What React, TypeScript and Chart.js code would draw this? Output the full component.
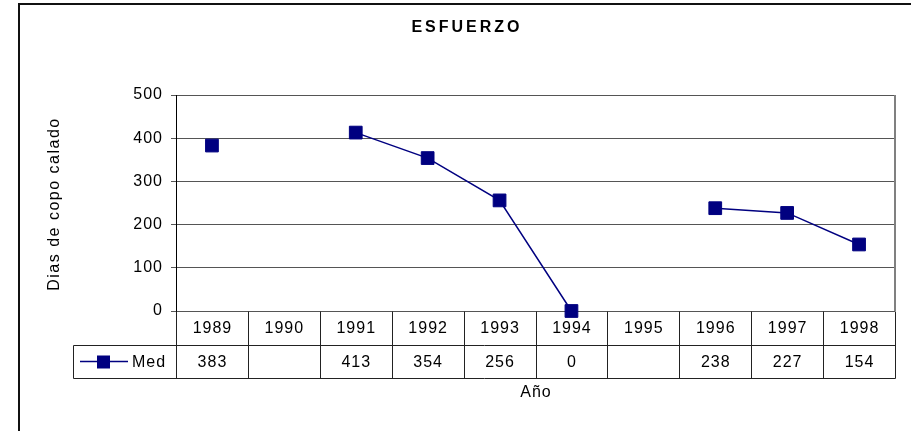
import React, { useEffect, useRef } from "react";
import { Chart, registerables } from "chart.js";

Chart.register(...registerables);

const chartTitle = "ESFUERZO";
const yAxisTitle = "Dias de copo calado";
const xAxisTitle = "Año";
const seriesName = "Med";
const years = ["1989", "1990", "1991", "1992", "1993", "1994", "1995", "1996", "1997", "1998"];
const medValues: (number | null)[] = [383, null, 413, 354, 256, 0, null, 238, 227, 154];
const yMin = 0;
const yMax = 500;
const yStep = 100;

const FONT = "'Liberation Sans', Arial, sans-serif";
const NAVY = "#000080";

const spacingPlugin = {
  id: "spacing",
  beforeLayout(chart: any) {
    (chart.ctx as any).letterSpacing = "1px";
  },
  beforeDraw(chart: any) {
    (chart.ctx as any).letterSpacing = "1px";
  },
};

const tablePlugin = {
  id: "dataTable",
  beforeDatasetsDraw(chart: any) {
    const ctx: CanvasRenderingContext2D = chart.ctx;
    const area = chart.chartArea;
    const xs = chart.scales.x;
    const n = years.length;
    const colW = (area.right - area.left) / n;
    const row1 = area.bottom;
    const row2 = area.bottom + 34;
    const row3 = area.bottom + 67;
    const legendLeft = 73;
    ctx.save();

    // outer chart border
    ctx.fillStyle = "#111";
    ctx.fillRect(18, 3, 911, 2);
    ctx.fillRect(18, 3, 2, 431);

    // plot area right border
    ctx.strokeStyle = "#808080";
    ctx.lineWidth = 2;
    ctx.beginPath();
    ctx.moveTo(area.right, area.top);
    ctx.lineTo(area.right, area.bottom);
    ctx.stroke();

    // table lines
    ctx.strokeStyle = "#222";
    ctx.lineWidth = 1;
    ctx.beginPath();
    const L = Math.round(area.left) + 0.5;
    const R = Math.round(area.right) + 0.5;
    ctx.moveTo(legendLeft + 0.5, Math.round(row2) + 0.5);
    ctx.lineTo(R, Math.round(row2) + 0.5);
    ctx.moveTo(legendLeft + 0.5, Math.round(row3) + 0.5);
    ctx.lineTo(R, Math.round(row3) + 0.5);
    ctx.moveTo(legendLeft + 0.5, Math.round(row2) + 0.5);
    ctx.lineTo(legendLeft + 0.5, Math.round(row3) + 0.5);
    ctx.moveTo(L, Math.round(row1) + 0.5);
    ctx.lineTo(L, Math.round(row3) + 0.5);
    for (let i = 0; i < n; i++) {
      const right = Math.round(xs.getPixelForValue(i) + colW / 2) + 0.5;
      ctx.moveTo(right, Math.round(row1) + 0.5);
      ctx.lineTo(right, Math.round(row3) + 0.5);
    }
    ctx.stroke();

    // table texts
    ctx.fillStyle = "#000";
    ctx.font = `16px ${FONT}`;
    (ctx as any).letterSpacing = "1px";
    ctx.textAlign = "center";
    ctx.textBaseline = "middle";
    for (let i = 0; i < n; i++) {
      const cx = xs.getPixelForValue(i);
      ctx.fillText(years[i], cx + 0.5, (row1 + row2) / 2 + 1);
      const v = medValues[i];
      if (v !== null) ctx.fillText(String(v), cx + 0.5, (row2 + row3) / 2 + 1);
    }

    // legend key in the table
    const ly = (row2 + row3) / 2;
    ctx.strokeStyle = NAVY;
    ctx.lineWidth = 1.5;
    ctx.beginPath();
    ctx.moveTo(80, ly);
    ctx.lineTo(128, ly);
    ctx.stroke();
    ctx.fillStyle = NAVY;
    ctx.fillRect(97, ly - 6, 13, 13);
    ctx.fillStyle = "#000";
    ctx.textAlign = "left";
    ctx.fillText(seriesName, 132, ly + 1);

    // axis title x
    ctx.textAlign = "center";
    ctx.fillText(xAxisTitle, 536, 393);

    // title
    ctx.font = `bold 16px ${FONT}`;
    (ctx as any).letterSpacing = "3px";
    ctx.fillText(chartTitle, 467, 28);

    // y title
    ctx.font = `16px ${FONT}`;
    (ctx as any).letterSpacing = "1.5px";
    ctx.translate(55, 204);
    ctx.rotate(-Math.PI / 2);
    ctx.fillText(yAxisTitle, 0, 0);
    ctx.restore();
  },
};

export default function App() {
  const ref = useRef<HTMLCanvasElement | null>(null);
  useEffect(() => {
    if (!ref.current) return;
    const chart = new Chart(ref.current, {
      type: "line",
      data: {
        labels: years,
        datasets: [
          {
            label: seriesName,
            data: medValues,
            borderColor: NAVY,
            backgroundColor: NAVY,
            borderWidth: 1.5,
            pointStyle: "rect",
            pointRadius: 9,
            pointBorderWidth: 1,
            pointHoverRadius: 9,
            spanGaps: false,
            clip: false as any,
            tension: 0,
          },
        ],
      },
      options: {
        responsive: false,
        animation: false,
        events: [],
        layout: { padding: { top: 95, bottom: 120, right: 16, left: 0 } },
        plugins: {
          legend: { display: false },
          title: { display: false },
          tooltip: { enabled: false },
        },
        scales: {
          x: {
            type: "category",
            display: false,
            offset: true,
          },
          y: {
            min: yMin,
            max: yMax,
            afterFit: (scale: any) => {
              scale.width = 176;
            },
            ticks: {
              stepSize: yStep,
              color: "#000",
              padding: 8,
              font: { family: FONT, size: 16 },
            },
            grid: {
              color: "#555",
              lineWidth: 1,
              tickLength: 5,
              drawTicks: true,
            },
            border: { display: true, color: "#000", width: 1 },
          },
        },
      },
      plugins: [spacingPlugin, tablePlugin],
    });
    return () => chart.destroy();
  }, []);
  return (
    <div style={{ position: "fixed", left: 0, top: 0, width: 911, height: 431, background: "#fff" }}>
      <canvas ref={ref} width={911} height={431} style={{ display: "block" }} />
    </div>
  );
}
